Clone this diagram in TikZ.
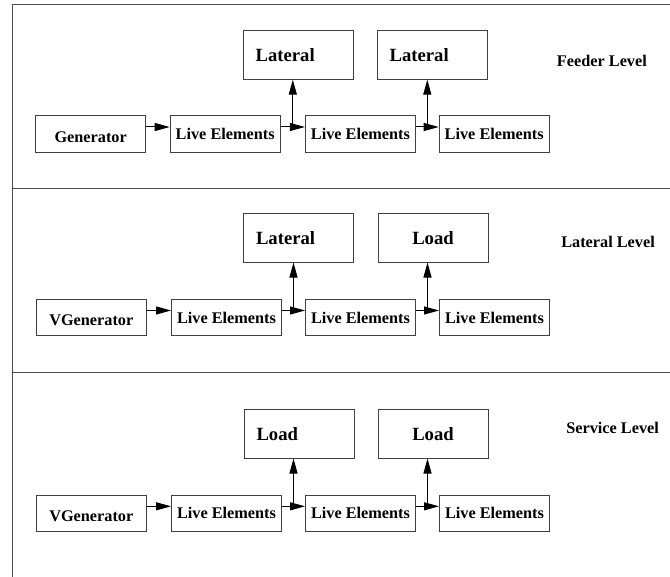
\documentclass[tikz,border=0pt]{standalone}
\usepackage{fontspec}
\setmainfont{Liberation Serif}
\usetikzlibrary{arrows.meta,calc}
\begin{document}
\begin{tikzpicture}[x=0.75pt,y=-0.75pt,
  frameline/.style={draw=black!70, line width=0.75pt},
  blk/.style={draw=black!75, line width=0.75pt, rectangle, inner sep=0pt,
    minimum width=82.5pt, font=\fontsize{12.2}{14}\selectfont\bfseries},
  low/.style={blk, minimum height=27.4pt},
  high/.style={blk, minimum height=36.3pt, font=\fontsize{14}{16}\selectfont\bfseries},
  lefttext/.style={text width=64pt, align=left},
  gentext/.style={text height=12.6pt, text depth=0pt},
  lvl/.style={anchor=west, inner sep=0pt, font=\fontsize{12.2}{14}\selectfont\bfseries},
  arr/.style={-{Triangle[length=11.25pt,width=6pt]}, line width=0.75pt}
]
\useasboundingbox (0,0) rectangle (670,577);

% frame and level separators
\draw[frameline] (12,577) -- (12,5) -- (670,5);
\draw[frameline] (12,189) -- (670,189);
\draw[frameline] (12,372.5) -- (670,372.5);

% ---- Feeder level
\node[low, gentext] (ga) at (90.7,134) {Generator};
\node[low] (a1) at (225.2,134) {Live Elements};
\node[low] (a2) at (360.4,134) {Live Elements};
\node[low] (a3) at (494.2,134) {Live Elements};
\node[high, lefttext] (ta1) at (298.3,54.9) {Lateral};
\node[high, lefttext] (ta2) at (432.3,54.9) {Lateral};
\node[lvl] (la) at (556.7,61) {Feeder Level};

\coordinate (ja1) at ($(a1.east)!.5!(a2.west)+(0,-7)$);
\coordinate (ja2) at ($(a2.east)!.5!(a3.west)+(0,-7)$);
\draw[arr] ($(ga.east)+(0,-7)$) -- ($(a1.west)+(0,-7)$);
\draw[arr] ($(a1.east)+(0,-7)$) -- ($(a2.west)+(0,-7)$);
\draw[arr] ($(a2.east)+(0,-7)$) -- ($(a3.west)+(0,-7)$);
\draw[arr] (ja1) -- (ja1 |- ta1.south);
\draw[arr] (ja2) -- (ja2 |- ta2.south);

% ---- Lateral level
\node[low, gentext] (gb) at (91.3,317.5) {VGenerator};
\node[low] (b1) at (226.5,317.5) {Live Elements};
\node[low] (b2) at (360.5,317.5) {Live Elements};
\node[low] (b3) at (494.5,317.5) {Live Elements};
\node[high, lefttext] (tb1) at (298.7,237.8) {Lateral};
\node[high] (tb2) at (433,237.8) {Load};
\node[lvl] (lb) at (561,241.7) {Lateral Level};

\coordinate (jb1) at ($(b1.east)!.5!(b2.west)+(0,-7)$);
\coordinate (jb2) at ($(b2.east)!.5!(b3.west)+(0,-7)$);
\draw[arr] ($(gb.east)+(0,-7)$) -- ($(b1.west)+(0,-7)$);
\draw[arr] ($(b1.east)+(0,-7)$) -- ($(b2.west)+(0,-7)$);
\draw[arr] ($(b2.east)+(0,-7)$) -- ($(b3.west)+(0,-7)$);
\draw[arr] (jb1) -- (jb1 |- tb1.south);
\draw[arr] (jb2) -- (jb2 |- tb2.south);

% ---- Service level
\node[low, gentext] (gc) at (91.3,513.3) {VGenerator};
\node[low] (c1) at (226.5,513.3) {Live Elements};
\node[low] (c2) at (360.5,513.3) {Live Elements};
\node[low] (c3) at (494.5,513.3) {Live Elements};
\node[high, lefttext] (tc1) at (299.2,433.8) {Load};
\node[high] (tc2) at (433,433.8) {Load};
\node[lvl] (lc) at (566,427.7) {Service Level};

\coordinate (jc1) at ($(c1.east)!.5!(c2.west)+(0,-7)$);
\coordinate (jc2) at ($(c2.east)!.5!(c3.west)+(0,-7)$);
\draw[arr] ($(gc.east)+(0,-7)$) -- ($(c1.west)+(0,-7)$);
\draw[arr] ($(c1.east)+(0,-7)$) -- ($(c2.west)+(0,-7)$);
\draw[arr] ($(c2.east)+(0,-7)$) -- ($(c3.west)+(0,-7)$);
\draw[arr] (jc1) -- (jc1 |- tc1.south);
\draw[arr] (jc2) -- (jc2 |- tc2.south);
\end{tikzpicture}
\end{document}
